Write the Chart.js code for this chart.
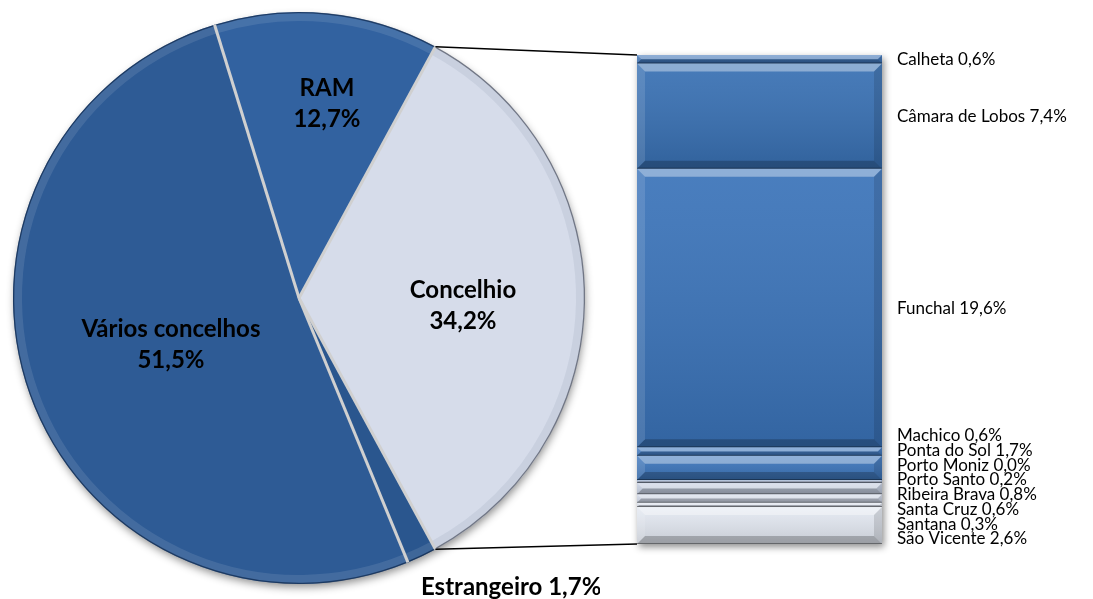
<!DOCTYPE html>
<html>
<head>
<meta charset="utf-8">
<script src="https://cdn.jsdelivr.net/npm/chart.js@4.4.0/dist/chart.umd.min.js"></script>
<style>
  html, body { margin: 0; padding: 0; background: #fff; }
  #wrap { position: relative; width: 1093px; height: 599px; overflow: hidden; }
  #pie { position: absolute; left: 0; top: 0; }
  #bar { position: absolute; left: 600px; top: 0; }
  #links { position: absolute; left: 0; top: 0; pointer-events: none; }
</style>
</head>
<body>
<div id="wrap">
  <canvas id="pie" width="600" height="599"></canvas>
  <canvas id="bar" width="493" height="599"></canvas>
  <canvas id="links" width="1093" height="599"></canvas>
</div>
<script>
// pie: origem
const pieLabels = ['Concelhio', 'Estrangeiro', 'Vários concelhos', 'RAM'];
const pieValues = [34.2, 1.7, 51.5, 12.7];

// barra: detalhe do concelho
const barLabels = ['Calheta', 'Câmara de Lobos', 'Funchal', 'Machico', 'Ponta do Sol', 'Porto Moniz',
  'Porto Santo', 'Ribeira Brava', 'Santa Cruz', 'Santana', 'São Vicente'];
const barValues = [0.6, 7.4, 19.6, 0.6, 1.7, 0.0, 0.2, 0.8, 0.6, 0.3, 2.6];

const pieColors = ['#D6DCEA', '#2A568E', '#2E5B95', '#3262A0'];
const barColors = ['#3A71B6', '#3870B3', '#3A73B9', '#3E78C0', '#3C75BB', '#7C9BC8',
  '#A4B3CF', '#C3CDE0', '#D0D8E8', '#DCE2EE', '#E3E8F1'];

const pct = v => v.toFixed(1).replace('.', ',') + '%';
const pieTotal = pieValues.reduce((a, b) => a + b, 0);
const barTotal = barValues.reduce((a, b) => a + b, 0);
const FONT = 'Lato, "Open Sans", sans-serif';

function poly(ctx, pts, fill) {
  ctx.beginPath();
  ctx.moveTo(pts[0][0], pts[0][1]);
  for (let i = 1; i < pts.length; i++) ctx.lineTo(pts[i][0], pts[i][1]);
  ctx.closePath();
  ctx.fillStyle = fill;
  ctx.fill();
}

const pieDecor = {
  id: 'pieDecor',
  beforeDatasetsDraw(chart) {
    const a = chart.getDatasetMeta(0).data[0];
    const ctx = chart.ctx;
    ctx.save();
    ctx.shadowColor = 'rgba(0,0,0,0.45)';
    ctx.shadowBlur = 8;
    ctx.shadowOffsetY = 4;
    ctx.shadowOffsetX = 1;
    ctx.fillStyle = '#2D5A93';
    ctx.beginPath();
    ctx.arc(a.x, a.y, a.outerRadius - 1, 0, Math.PI * 2);
    ctx.fill();
    ctx.restore();
  },
  afterDatasetsDraw(chart, args, opts) {
    const ctx = chart.ctx;
    const arcs = chart.getDatasetMeta(0).data;
    const cx = arcs[0].x, cy = arcs[0].y, r = arcs[0].outerRadius;
    ctx.save();
    // bisel na borda
    arcs.forEach((a, i) => {
      const light = i === 0;
      ctx.beginPath();
      ctx.arc(cx, cy, r - 5, a.startAngle, a.endAngle);
      ctx.lineWidth = 8;
      ctx.strokeStyle = light ? 'rgba(110,120,145,0.12)' : 'rgba(255,255,255,0.10)';
      ctx.stroke();
      ctx.beginPath();
      ctx.arc(cx, cy, r - 0.6, a.startAngle, a.endAngle);
      ctx.lineWidth = 1.3;
      ctx.strokeStyle = light ? 'rgba(80,86,100,0.75)' : 'rgba(15,35,65,0.6)';
      ctx.stroke();
    });
    // separadores
    ctx.strokeStyle = '#D0D0D0';
    ctx.lineWidth = 3;
    arcs.forEach(a => {
      ctx.beginPath();
      ctx.moveTo(cx, cy);
      ctx.lineTo(cx + r * Math.cos(a.startAngle), cy + r * Math.sin(a.startAngle));
      ctx.stroke();
    });
    // rótulos
    ctx.fillStyle = '#000';
    ctx.font = 'bold 24px ' + FONT;
    ctx.textAlign = 'center';
    ctx.textBaseline = 'middle';
    pieLabels.forEach((name, i) => {
      const [deg, frac] = opts.positions[i];
      const t = deg * Math.PI / 180;
      const x = cx + frac * r * Math.sin(t);
      const y = cy - frac * r * Math.cos(t);
      if (opts.oneLine.includes(i)) {
        ctx.fillText(name + ' ' + pct(pieValues[i]), x, y);
      } else {
        ctx.fillText(name, x, y - 15.5);
        ctx.fillText(pct(pieValues[i]), x, y + 15.5);
      }
    });
    ctx.restore();
  }
};

const pieChart = new Chart(document.getElementById('pie'), {
  type: 'pie',
  data: {
    labels: pieLabels,
    datasets: [{
      data: pieValues,
      backgroundColor: pieColors,
      borderWidth: 0,
      hoverOffset: 0
    }]
  },
  options: {
    responsive: false,
    animation: false,
    rotation: 90 - pieValues[0] / pieTotal * 180,
    layout: { padding: { left: 13, right: 15, top: 12, bottom: 15 } },
    plugins: {
      legend: { display: false },
      tooltip: { enabled: false },
      pieDecor: {
        positions: [[92.8, 0.574], [143.7, 1.253], [249.8, 0.477], [8.2, 0.685]],
        oneLine: [1]
      }
    }
  },
  plugins: [pieDecor]
});

// afasta rótulos sobrepostos, mantendo cada grupo centrado
function spread(ys, gap) {
  let groups = ys.map((y, i) => ({ idx: [i], mean: y }));
  let merged = true;
  while (merged) {
    merged = false;
    for (let g = 1; g < groups.length; g++) {
      const a = groups[g - 1], b = groups[g];
      const aEnd = a.mean + (a.idx.length - 1) * gap / 2;
      const bStart = b.mean - (b.idx.length - 1) * gap / 2;
      if (bStart - aEnd < gap) {
        const idx = a.idx.concat(b.idx);
        const mean = idx.reduce((s, k) => s + ys[k], 0) / idx.length;
        groups.splice(g - 1, 2, { idx, mean });
        merged = true;
        break;
      }
    }
  }
  const out = [];
  groups.forEach(g => g.idx.forEach((k, j) => { out[k] = g.mean + (j - (g.idx.length - 1) / 2) * gap; }));
  return out;
}

const barDecor = {
  id: 'barDecor',
  beforeDatasetsDraw(chart) {
    const { left, right, top, bottom } = chart.chartArea;
    const ctx = chart.ctx;
    ctx.save();
    ctx.shadowColor = 'rgba(0,0,0,0.45)';
    ctx.shadowBlur = 7;
    ctx.shadowOffsetX = 2;
    ctx.shadowOffsetY = 3;
    ctx.fillStyle = '#aab';
    ctx.fillRect(left, top, right - left, bottom - top);
    ctx.restore();
  },
  afterDatasetsDraw(chart, args, opts) {
    const ctx = chart.ctx;
    const y = chart.scales.y;
    ctx.save();
    chart.data.datasets.forEach((ds, i) => {
      const el = chart.getDatasetMeta(i).data[0];
      const x0 = el.x - el.width / 2, x1 = el.x + el.width / 2;
      const y0 = Math.min(el.y, el.base), y1 = Math.max(el.y, el.base);
      const h = y1 - y0;
      if (h < 0.5) return;
      const b = Math.min(8, h / 2);
      const g = ctx.createLinearGradient(0, y0, 0, y1);
      g.addColorStop(0, 'rgba(255,255,255,0.08)');
      g.addColorStop(1, 'rgba(0,0,0,0.13)');
      ctx.fillStyle = g;
      ctx.fillRect(x0, y0, x1 - x0, h);
      poly(ctx, [[x0, y0], [x1, y0], [x1 - b, y0 + b], [x0 + b, y0 + b]], 'rgba(255,255,255,0.38)');
      poly(ctx, [[x0, y1], [x1, y1], [x1 - b, y1 - b], [x0 + b, y1 - b]], 'rgba(0,0,0,0.22)');
      poly(ctx, [[x0, y0], [x0 + b, y0 + b], [x0 + b, y1 - b], [x0, y1]], 'rgba(255,255,255,0.12)');
      poly(ctx, [[x1, y0], [x1 - b, y0 + b], [x1 - b, y1 - b], [x1, y1]], 'rgba(0,0,0,0.12)');
      ctx.fillStyle = 'rgba(0,0,0,0.35)';
      ctx.fillRect(x0, y1 - 1, x1 - x0, 1);
    });
    // rótulos à direita
    let acc = 0;
    const mids = barValues.map(v => { const m = y.getPixelForValue(acc + v / 2); acc += v; return m; });
    const ys = spread(mids, opts.gap);
    const xText = chart.chartArea.right + 15;
    ctx.fillStyle = '#000';
    ctx.font = '17px ' + FONT;
    ctx.textAlign = 'left';
    ctx.textBaseline = 'middle';
    barLabels.forEach((name, i) => ctx.fillText(name + ' ' + pct(barValues[i]), xText, ys[i]));
    ctx.restore();
  }
};

const barChart = new Chart(document.getElementById('bar'), {
  type: 'bar',
  data: {
    labels: [''],
    datasets: barLabels.map((name, i) => ({
      label: name,
      data: [barValues[i]],
      backgroundColor: barColors[i],
      borderWidth: 0,
      barPercentage: 1,
      categoryPercentage: 1
    }))
  },
  options: {
    responsive: false,
    animation: false,
    layout: { padding: { left: 37, right: 211, top: 55, bottom: 55 } },
    plugins: {
      legend: { display: false },
      tooltip: { enabled: false },
      barDecor: { gap: 14.7 }
    },
    scales: {
      x: { stacked: true, display: false },
      y: { stacked: true, display: false, reverse: true, min: 0, max: barTotal }
    }
  },
  plugins: [barDecor]
});

// linhas de ligação entre a fatia e a barra
function drawLinks() {
  const ctx = document.getElementById('links').getContext('2d');
  const arc = pieChart.getDatasetMeta(0).data[0];
  const r = arc.outerRadius;
  const el = barChart.getDatasetMeta(0).data[0];
  const barLeft = 600 + el.x - el.width / 2;
  const barTop = barChart.scales.y.getPixelForValue(0);
  const barBottom = barChart.scales.y.getPixelForValue(barTotal);
  ctx.strokeStyle = '#000';
  ctx.lineWidth = 1.5;
  ctx.beginPath();
  ctx.moveTo(arc.x + r * Math.cos(arc.startAngle), arc.y + r * Math.sin(arc.startAngle));
  ctx.lineTo(barLeft, barTop);
  ctx.moveTo(arc.x + r * Math.cos(arc.endAngle), arc.y + r * Math.sin(arc.endAngle));
  ctx.lineTo(barLeft, barBottom);
  ctx.stroke();
}
drawLinks();
</script>
</body>
</html>
